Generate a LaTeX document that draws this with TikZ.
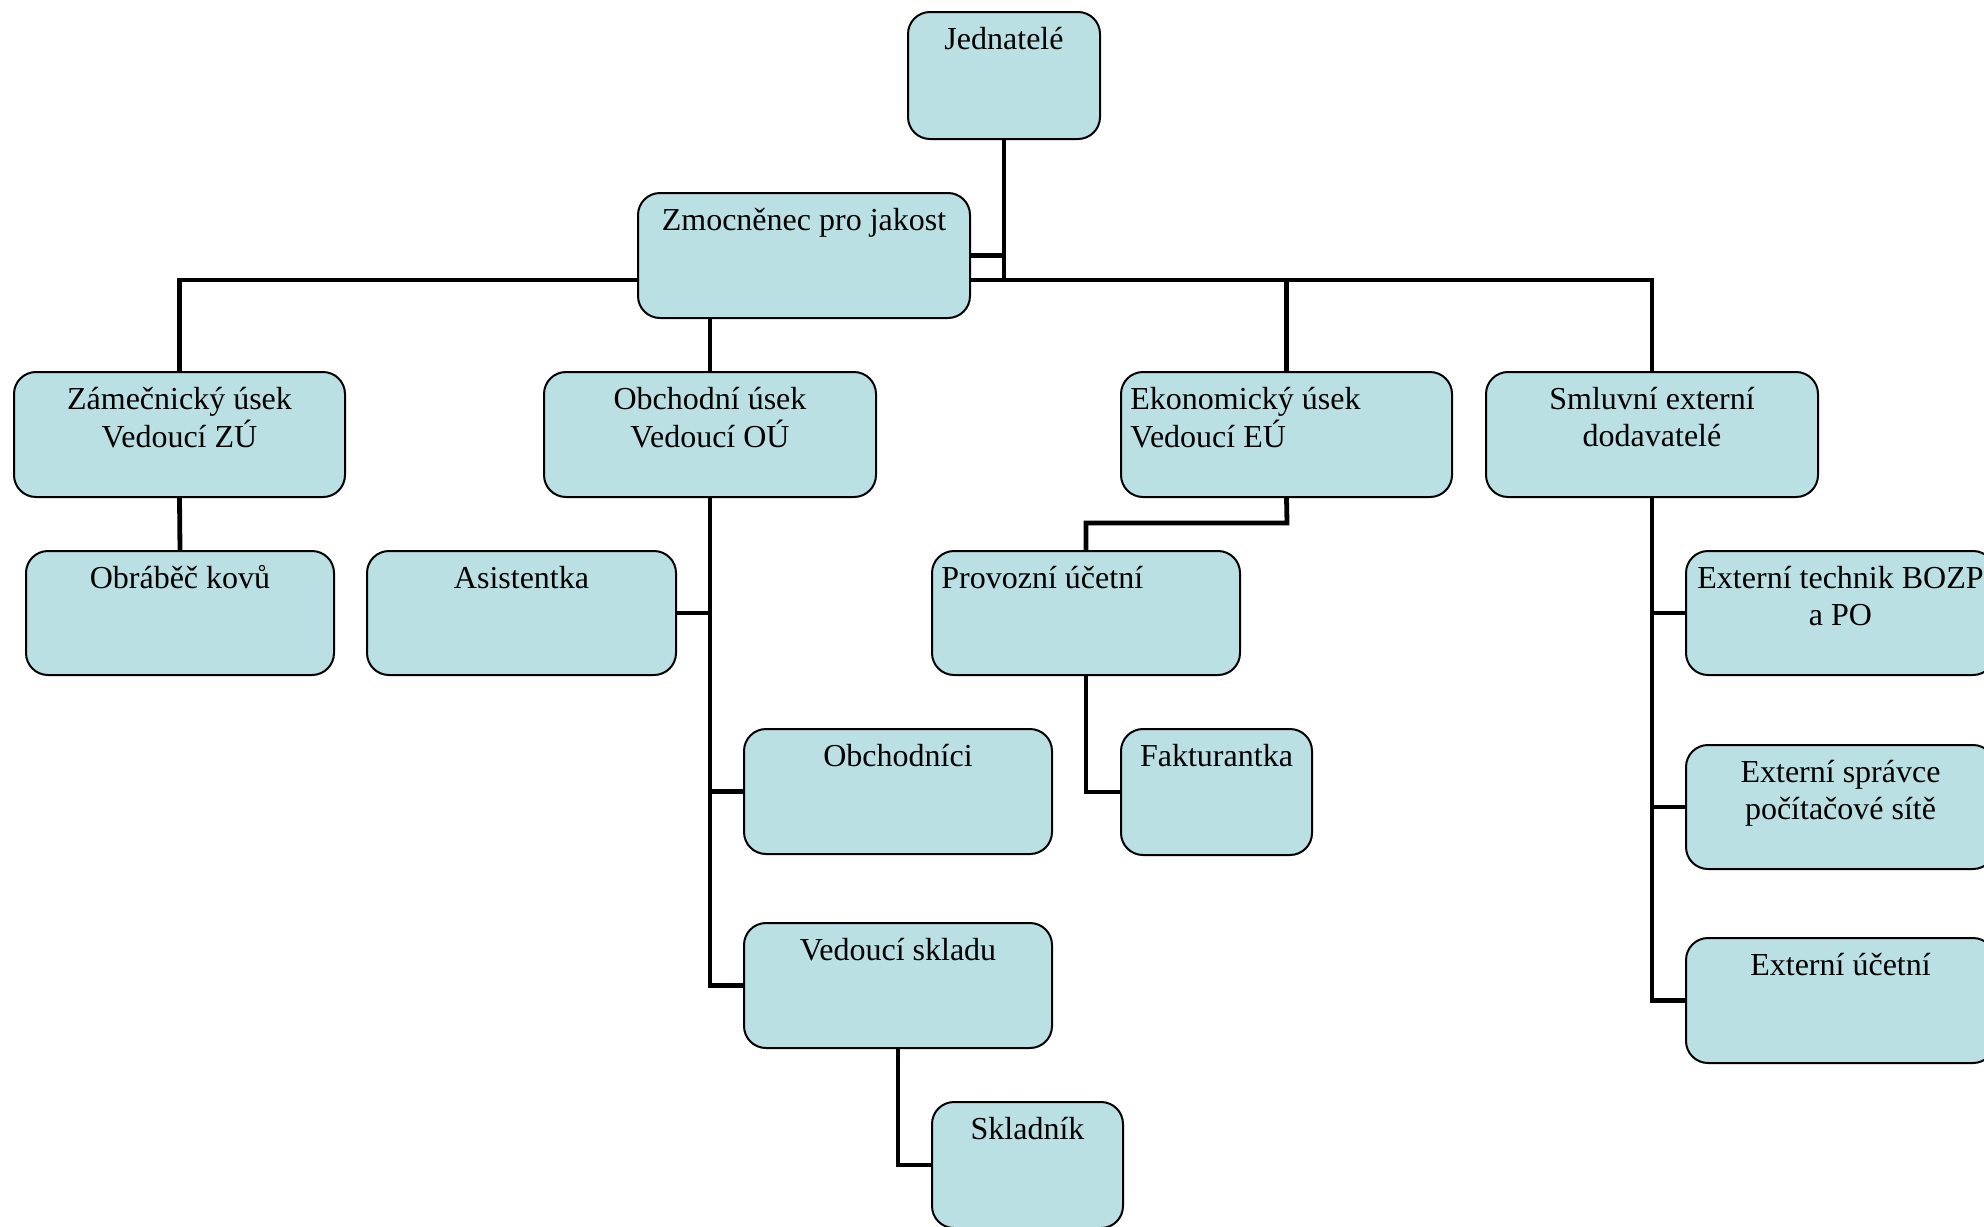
\documentclass[tikz,border=0pt]{standalone}
\usepackage{fontspec}
\setmainfont{Liberation Serif}
\usetikzlibrary{backgrounds}
\definecolor{boxfill}{RGB}{186,224,227}
\newcommand\orgc[1]{\begin{tabular}[t]{@{}c@{}}#1\end{tabular}}
\newcommand\orgl[1]{\begin{tabular}[t]{@{}l@{}}#1\end{tabular}}
\begin{document}
\begin{tikzpicture}[x=0.5pt,y=-0.5pt,
  orgbox/.style={draw=black, line width=1pt, fill=boxfill, rounded corners=11pt, inner sep=0pt},
  lbl/.style={inner sep=0pt, font=\fontsize{16}{18.5}\selectfont, text=black},
  conn/.style={line width=2.4pt, draw=black}]
\useasboundingbox (0,0) rectangle (1984,1226);

% boxes
\node[orgbox, minimum width=96pt,   minimum height=63.5pt] (jed)  at (1004,75.5)   {};
\node[orgbox, minimum width=166pt,  minimum height=62.5pt] (zmo)  at (804,255.5)   {};
\node[orgbox, minimum width=165.5pt,minimum height=62.5pt] (zam)  at (179.5,434.5) {};
\node[orgbox, minimum width=166pt,  minimum height=62.5pt] (obc)  at (710,434.5)   {};
\node[orgbox, minimum width=165.5pt,minimum height=62.5pt] (eko)  at (1286.5,434.5){};
\node[orgbox, minimum width=166pt,  minimum height=62.5pt] (sml)  at (1652,434.5)  {};
\node[orgbox, minimum width=154pt,  minimum height=62pt]   (obr)  at (180,613)     {};
\node[orgbox, minimum width=154.5pt,minimum height=62pt]   (asi)  at (521.5,613)   {};
\node[orgbox, minimum width=154pt,  minimum height=62pt]   (pro)  at (1086,613)    {};
\node[orgbox, minimum width=154.5pt,minimum height=62pt]   (ext1) at (1840.5,613)  {};
\node[orgbox, minimum width=154pt,  minimum height=62.5pt] (obn)  at (898,791.5)   {};
\node[orgbox, minimum width=95.5pt, minimum height=63pt]   (fak)  at (1216.5,792)  {};
\node[orgbox, minimum width=154.5pt,minimum height=62pt]   (ext2) at (1840.5,807)  {};
\node[orgbox, minimum width=154pt,  minimum height=62.5pt] (ved)  at (898,985.5)   {};
\node[orgbox, minimum width=154.5pt,minimum height=62.5pt] (ext3) at (1840.5,1000.5){};
\node[orgbox, minimum width=95.5pt, minimum height=63pt]   (skl)  at (1027.5,1165) {};

% texts
\node[lbl, anchor=base] (jed-t)  at ([yshift=-19pt]jed.north)  {\orgc{Jednatelé}};
\node[lbl, anchor=base] (zmo-t)  at ([yshift=-19pt]zmo.north)  {\orgc{Zmocněnec pro jakost}};
\node[lbl, anchor=base] (zam-t)  at ([yshift=-19pt]zam.north)  {\orgc{Zámečnický úsek\\Vedoucí ZÚ}};
\node[lbl, anchor=base] (obc-t)  at ([yshift=-19pt]obc.north)  {\orgc{Obchodní úsek\\Vedoucí OÚ}};
\node[lbl, anchor=base west] (eko-t) at ([xshift=5pt,yshift=-19pt]eko.north west) {\orgl{Ekonomický úsek\\Vedoucí EÚ}};
\node[lbl, anchor=base] (sml-t)  at ([yshift=-19pt]sml.north)  {\orgc{Smluvní externí\\dodavatelé}};
\node[lbl, anchor=base] (obr-t)  at ([yshift=-19pt]obr.north)  {\orgc{Obráběč kovů}};
\node[lbl, anchor=base] (asi-t)  at ([yshift=-19pt]asi.north)  {\orgc{Asistentka}};
\node[lbl, anchor=base west] (pro-t) at ([xshift=5pt,yshift=-19pt]pro.north west) {\orgl{Provozní účetní}};
\node[lbl, anchor=base] (ext1-t) at ([yshift=-19pt]ext1.north) {\orgc{Externí technik BOZP\\a PO}};
\node[lbl, anchor=base] (obn-t)  at ([yshift=-19pt]obn.north)  {\orgc{Obchodníci}};
\node[lbl, anchor=base] (fak-t)  at ([yshift=-19pt]fak.north)  {\orgc{Fakturantka}};
\node[lbl, anchor=base] (ext2-t) at ([yshift=-19pt]ext2.north) {\orgc{Externí správce\\počítačové sítě}};
\node[lbl, anchor=base] (ved-t)  at ([yshift=-19pt]ved.north)  {\orgc{Vedoucí skladu}};
\node[lbl, anchor=base] (ext3-t) at ([yshift=-19pt]ext3.north) {\orgc{Externí účetní}};
\node[lbl, anchor=base] (skl-t)  at ([yshift=-19pt]skl.north)  {\orgc{Skladník}};

% connectors
\coordinate (bus) at (1004,280);
\coordinate (ekj) at (1287,523);
\begin{pgfonlayer}{background}
\draw[conn] (jed.south) -- ([yshift=-1.2pt]bus);
\draw[conn] (jed.south |- zmo.east) -- (zmo.east);
\draw[conn] (zam.north) -- (zam.north |- bus) -- (sml.north |- bus) -- (sml.north);
\draw[conn] (eko.north) -- (eko.north |- bus);
\draw[conn] (zmo.south -| obc.north) -- (obc.north);
\draw[conn] (zam.south) -- (obr.north);
\draw[conn] (obc.south) |- (ved.west);
\draw[conn] (asi.east) -- (asi.east -| obc.south);
\draw[conn] (obn.west) -- (obn.west -| obc.south);
\draw[conn] (ved.south) |- (skl.west);
\draw[conn] (eko.south) -- (ekj) -| (pro.north);
\draw[conn] (pro.south) |- (fak.west);
\draw[conn] (sml.south) |- (ext3.west);
\draw[conn] (ext1.west) -- (ext1.west -| sml.south);
\draw[conn] (ext2.west) -- (ext2.west -| sml.south);
\end{pgfonlayer}
\end{tikzpicture}
\end{document}
